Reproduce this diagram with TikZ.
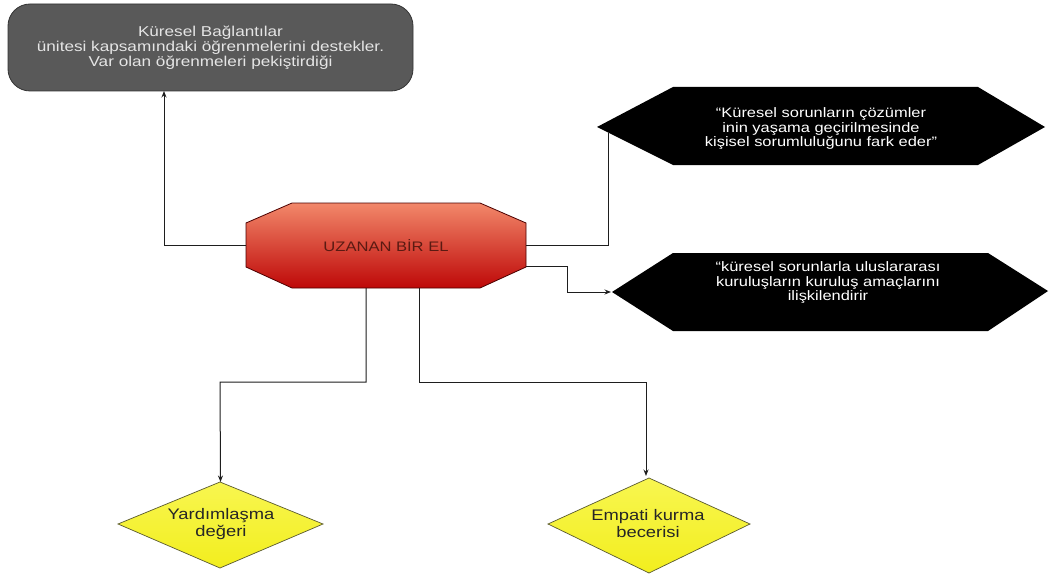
\documentclass[tikz,border=0pt]{standalone}
\usepackage{fontspec}
\setmainfont{Liberation Sans}[FakeStretch=1.2]
\usetikzlibrary{arrows.meta,calc}
\definecolor{boxgray}{HTML}{595959}
\definecolor{octtop}{HTML}{F2886A}
\definecolor{octbot}{HTML}{BE0808}
\definecolor{octtext}{HTML}{5A1A12}
\definecolor{diayel}{HTML}{F2EE1E}
\definecolor{diatop}{HTML}{F8F650}
\definecolor{diaedge}{HTML}{5A5A30}
\definecolor{linecol}{HTML}{1E1E1E}
\begin{document}
\begin{tikzpicture}[x=1pt,y=-1pt,
  conn/.style={draw=linecol, line width=1pt},
  arr/.style={conn, -{Stealth[length=6.5pt,width=5pt]}},
  anchorbox/.style={inner sep=0pt, outer sep=0pt, align=center},
  whitetext/.style={text=white, font=\fontsize{13.7}{14.6}\selectfont},
  diatext/.style={text=black!85, font=\fontsize{15.3}{16.5}\selectfont}]
\useasboundingbox (0,0) rectangle (1052,575);
\fill[white] (0,0) rectangle (1052,575);

% grey rounded box at the top left
\node[anchorbox, draw=black!80, line width=0.8pt, fill=boxgray, rounded corners=22pt,
      minimum width=405pt, minimum height=87pt, text=white!90!black,
      font=\fontsize{14.3}{14.8}\selectfont] (gb) at (210.5,47.5)
  {Küresel Bağlantılar\\ünitesi kapsamındaki öğrenmelerini destekler.\\Var olan öğrenmeleri pekiştirdiği};

% central octagon
\shade[top color=octtop, bottom color=octbot, draw=black!70!red, line width=0.8pt]
  (292,203) -- (480,203) -- (526,223) -- (526,267) -- (480,288) -- (292,288)
  -- (246,267) -- (246,223) -- cycle;
\node[anchorbox, minimum width=280pt, minimum height=85pt, text=octtext,
      font=\fontsize{13.8}{15}\selectfont] (oct) at (386,245.5) {UZANAN BİR EL};

% black hexagons on the right
\fill[black] (597,127) -- (673,87) -- (978,87) -- (1045,127) -- (978,165) -- (673,165) -- cycle;
\node[anchorbox, whitetext] (hexA) at (821,128.5)
  {“Küresel sorunların çözümler\\inin yaşama geçirilmesinde\\kişisel sorumluluğunu fark eder”};
\fill[black] (612,292) -- (673,253) -- (988,253) -- (1048,291) -- (988,331) -- (673,331) -- cycle;
\node[anchorbox, whitetext] (hexB) at (828,282.5)
  {“küresel sorunlarla uluslararası\\kuruluşların kuruluş amaçlarını\\ilişkilendirir};
\coordinate (hexAin) at (608,133);
\coordinate (hexBtip) at (611,292);

% yellow diamonds at the bottom
\shade[top color=diatop, bottom color=diayel, draw=diaedge, line width=0.7pt]
  (220,482) -- (323,524) -- (220,568) -- (118,524) -- cycle;
\node[anchorbox, minimum width=205pt, minimum height=86pt] (d1) at (220.5,525) {};
\node[anchorbox, diatext] (d1t) at (221,524) {Yardımlaşma\\değeri};
\shade[top color=diatop, bottom color=diayel, draw=diaedge, line width=0.7pt]
  (649,478) -- (750,524) -- (649,573) -- (548,524) -- cycle;
\node[anchorbox, minimum width=202pt, minimum height=95pt] (d2) at (647,525.5) {};
\node[anchorbox, diatext] (d2t) at (648,523.5) {Empati kurma\\becerisi};

% connectors
\coordinate (c1) at (164,245.5);
\draw[arr] (oct.west) -- (c1) -- (c1 |- gb.south);
\draw[conn] (oct.east) -| (hexAin);
\draw[arr] ($(oct.east)+(0,21)$) -- (567,266.5) -- (567,292) -- (hexBtip);
\draw[arr] (366,288) -- (366,382) -- (220,382) -- (d1.north);
\draw[arr] (419,288) -- (419,382) -- (646,382) -- (646,476);
\end{tikzpicture}
\end{document}
